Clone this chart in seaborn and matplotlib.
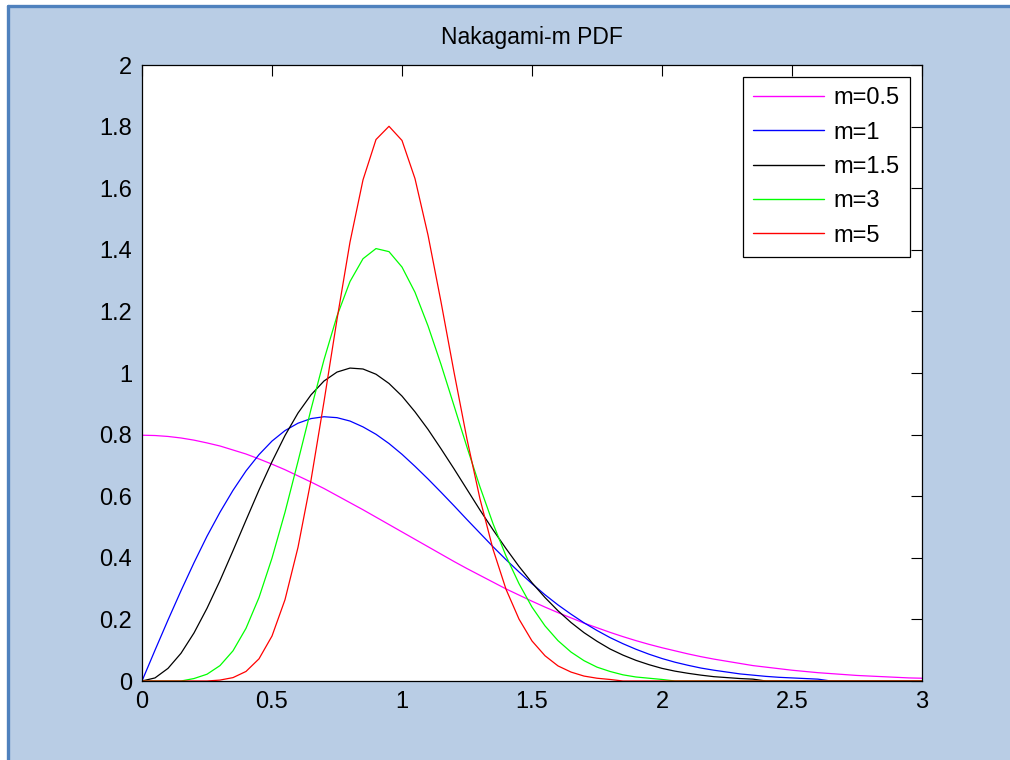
import numpy as np
import pandas as pd
import matplotlib
matplotlib.use("Agg")
import matplotlib.pyplot as plt
import seaborn as sns
from matplotlib.patches import Rectangle
from matplotlib.lines import Line2D

# sample positions along the envelope axis (step 0.05 from 0 to 3)
x = np.round(np.arange(61) * 0.05, 2)

pdf_m05 = [0.798, 0.797, 0.794, 0.789, 0.782, 0.773, 0.763, 0.750, 0.737, 0.721,
           0.704, 0.686, 0.666, 0.646, 0.625, 0.602, 0.579, 0.556, 0.532, 0.508,
           0.484, 0.460, 0.436, 0.412, 0.388, 0.365, 0.343, 0.321, 0.299, 0.279,
           0.259, 0.240, 0.222, 0.205, 0.188, 0.173, 0.158, 0.144, 0.131, 0.119,
           0.108, 0.098, 0.088, 0.079, 0.071, 0.064, 0.057, 0.050, 0.045, 0.040,
           0.035, 0.031, 0.027, 0.024, 0.021, 0.018, 0.016, 0.014, 0.012, 0.010,
           0.009]
pdf_m1 = [0.000, 0.100, 0.198, 0.293, 0.384, 0.470, 0.548, 0.619, 0.682, 0.735,
          0.779, 0.813, 0.837, 0.852, 0.858, 0.855, 0.844, 0.825, 0.801, 0.771,
          0.736, 0.697, 0.656, 0.613, 0.569, 0.524, 0.480, 0.436, 0.394, 0.354,
          0.316, 0.280, 0.247, 0.217, 0.189, 0.164, 0.141, 0.121, 0.103, 0.087,
          0.073, 0.061, 0.051, 0.042, 0.035, 0.029, 0.023, 0.019, 0.015, 0.012,
          0.010, 0.008, 0.006, 0.0, 0.0, 0.0, 0.0, 0.0, 0.0, 0.0,
          0.0]
pdf_m15 = [0.000, 0.010, 0.041, 0.090, 0.156, 0.236, 0.326, 0.423, 0.522, 0.620,
           0.712, 0.797, 0.870, 0.929, 0.974, 1.003, 1.016, 1.013, 0.996, 0.966,
           0.925, 0.874, 0.817, 0.754, 0.689, 0.622, 0.555, 0.491, 0.430, 0.372,
           0.319, 0.271, 0.228, 0.190, 0.157, 0.129, 0.104, 0.084, 0.067, 0.053,
           0.041, 0.032, 0.025, 0.019, 0.014, 0.011, 0.008, 0.006, 0.0, 0.0,
           0.0, 0.0, 0.0, 0.0, 0.0, 0.0, 0.0, 0.0, 0.0, 0.0,
           0.0]
pdf_m3 = [0.0, 0.0, 0.0, 0.0, 0.008, 0.022, 0.050, 0.098, 0.171, 0.271,
          0.399, 0.548, 0.713, 0.882, 1.043, 1.185, 1.297, 1.371, 1.404, 1.394,
          1.344, 1.262, 1.153, 1.028, 0.894, 0.759, 0.630, 0.511, 0.406, 0.316,
          0.240, 0.179, 0.131, 0.094, 0.066, 0.045, 0.031, 0.020, 0.013, 0.009,
          0.005, 0.0, 0.0, 0.0, 0.0, 0.0, 0.0, 0.0, 0.0, 0.0,
          0.0, 0.0, 0.0, 0.0, 0.0, 0.0, 0.0, 0.0, 0.0, 0.0,
          0.0]
pdf_m5 = [0.0, 0.0, 0.0, 0.0, 0.0, 0.0, 0.003, 0.011, 0.031, 0.072,
          0.146, 0.264, 0.434, 0.652, 0.907, 1.174, 1.425, 1.627, 1.758, 1.801,
          1.755, 1.631, 1.448, 1.231, 1.003, 0.785, 0.591, 0.428, 0.298, 0.201,
          0.130, 0.082, 0.049, 0.029, 0.016, 0.009, 0.005, 0.0, 0.0, 0.0,
          0.0, 0.0, 0.0, 0.0, 0.0, 0.0, 0.0, 0.0, 0.0, 0.0,
          0.0, 0.0, 0.0, 0.0, 0.0, 0.0, 0.0, 0.0, 0.0, 0.0,
          0.0]

labels = ["m=0.5", "m=1", "m=1.5", "m=3", "m=5"]
colors = ["#FF00FF", "#0000FF", "#000000", "#00FF00", "#FF0000"]

x_ticks = [0, 0.5, 1, 1.5, 2, 2.5, 3]
x_tick_labels = ["0", "0.5", "1", "1.5", "2", "2.5", "3"]
y_ticks = [0, 0.2, 0.4, 0.6, 0.8, 1.0, 1.2, 1.4, 1.6, 1.8, 2.0]
y_tick_labels = ["0", "0.2", "0.4", "0.6", "0.8", "1", "1.2", "1.4", "1.6", "1.8", "2"]

series = [pdf_m05, pdf_m1, pdf_m15, pdf_m3, pdf_m5]
df = pd.concat(
    [pd.DataFrame({"x": x, "pdf": vals, "label": lab}) for lab, vals in zip(labels, series)],
    ignore_index=True,
)

sns.set_style("white")
plt.rcParams["font.family"] = ["Liberation Sans", "DejaVu Sans"]
plt.rcParams["text.color"] = "black"

W, H = 1010, 760
fig = plt.figure(figsize=(W / 100, H / 100), dpi=100, facecolor="white")

# window background with the darker frame line on top and left
bg = "#B9CDE5"
frame = "#4F81BD"
fig.patches.append(Rectangle((8 / W, 0), 1, 1 - 6 / H, transform=fig.transFigure,
                             facecolor=bg, edgecolor="none", zorder=-10))
fig.add_artist(Line2D([8 / W, 8 / W], [0, 1 - 6 / H], color=frame, lw=2.4,
                      transform=fig.transFigure, zorder=-5))
fig.add_artist(Line2D([8 / W, 1], [1 - 6 / H, 1 - 6 / H], color=frame, lw=2.4,
                      transform=fig.transFigure, zorder=-5))

ax = fig.add_axes([142 / W, 1 - 681 / H, (922 - 142) / W, (681 - 65) / H])
ax.set_facecolor("white")

sns.lineplot(data=df, x="x", y="pdf", hue="label", hue_order=labels,
             palette=dict(zip(labels, colors)), linewidth=0.9, legend=False,
             sort=False, estimator=None, ax=ax)

ax.set_xlim(0, 3)
ax.set_ylim(0, 2)
ax.set_xticks(x_ticks)
ax.set_xticklabels(x_tick_labels)
ax.set_yticks(y_ticks)
ax.set_yticklabels(y_tick_labels)
ax.set_xlabel("")
ax.set_ylabel("")

for sp in ax.spines.values():
    sp.set_visible(True)
    sp.set_color("black")
    sp.set_linewidth(0.9)

ax.tick_params(direction="in", length=8, width=0.8, top=True, right=True,
               labelsize=17, pad=7, colors="black")

ax.set_title("Nakagami-m PDF", fontsize=16.5, pad=15, color="black")

handles = [Line2D([], [], color=c, lw=1.0) for c in colors]
leg = ax.legend(handles, labels, loc="upper right", fontsize=17, frameon=True,
                fancybox=False, framealpha=1, edgecolor="black",
                handlelength=3.0, handletextpad=0.4, labelspacing=0.52,
                borderaxespad=0.5, borderpad=0.45)
leg.get_frame().set_linewidth(0.9)
for t in leg.get_texts():
    t.set_color("black")

fig.savefig("out.png", dpi=100, facecolor=fig.get_facecolor())
